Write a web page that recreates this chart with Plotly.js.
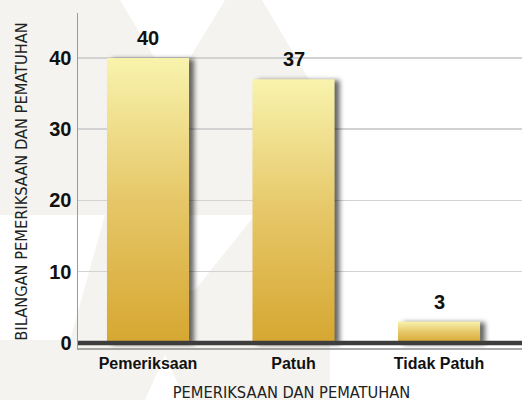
<!DOCTYPE html>
<html><head><meta charset="utf-8">
<script src="https://cdn.plot.ly/plotly-3.0.1.min.js"></script>
<style>
html,body{margin:0;padding:0;background:#fff;}
#chart{width:522px;height:400px;}
#chart .js-fill{filter:drop-shadow(5px 1px 2.5px rgba(0,0,0,0.6));}
</style></head><body><div id="chart"></div>
<script>
// ---- data ----
const categories = ['Pemeriksaan', 'Patuh', 'Tidak Patuh'];
const counts = [40, 37, 3];
const valueLabels = ['40', '37', '3'];
const yTickVals = [0, 10, 20, 30, 40];
const yTickText = ['0', '10', '20', '30', '40'];
const xTitle = 'PEMERIKSAAN DAN PEMATUHAN';
const yTitle = 'BILANGAN PEMERIKSAAN DAN PEMATUHAN';

// ---- style / layout helpers ----
const SANS = '"Liberation Sans", Arial, sans-serif';
const COND = '"DejaVu Sans Condensed", "Liberation Sans Narrow", "Liberation Sans", sans-serif';
const L = 78, T = 13, W = 444, H = 337;
const px = x => (x - L) / W;
const py = y => (T + H - y) / H;
const poly = pts => 'M' + pts.map(p => px(p[0]).toFixed(4) + ',' + py(p[1]).toFixed(4)).join('L') + 'Z';
const beige = '#f5f3ef';
const bgPolys = [
  [[0,0],[120,0],[172,87],[225,0],[262,0],[330,115],[330,215],[0,215]],
  [[105,215],[70,340],[0,340],[0,400],[145,400],[165,355],[185,400],[330,400],[330,215],
   [255,215],[195,290],[140,290],[115,215]]
];
const shapes = bgPolys.map(p => ({type:'path', xref:'paper', yref:'paper', path: poly(p),
  fillcolor: beige, line:{width:0}, layer:'below'}));
// floor of the axis
shapes.push({type:'line', xref:'paper', yref:'y', x0:0, x1:1, y0:0, y1:0,
  line:{color:'#3d3d3d', width:4.5}, layer:'above'});
shapes.push({type:'line', xref:'paper', yref:'y', x0:0, x1:1, y0:-0.86, y1:-0.86,
  line:{color:'#8c8c8c', width:1.5}, layer:'above'});

const halfW = 0.282;
const traces = categories.map((c, i) => ({
  type:'scatter', mode:'lines', name:c,
  x:[i-halfW, i+halfW, i+halfW, i-halfW, i-halfW],
  y:[0, 0, counts[i], counts[i], 0],
  fill:'toself', line:{width:0, color:'rgba(0,0,0,0)'},
  fillgradient:{type:'vertical', colorscale:[[0,'#d6a731'],[0.5,'#e6c768'],[1,'#f8f3ad']]},
  hoverinfo:'skip', showlegend:false
}));

const annotations = categories.map((c, i) => ({
  x:i, y:counts[i], xref:'x', yref:'y', text:valueLabels[i], showarrow:false,
  yanchor:'bottom', yshift:7,
  font:{family:SANS, size:20, weight:'bold', color:'#111'}
}));

const layout = {
  width:522, height:400,
  margin:{l:L, r:0, t:T, b:400-T-H, pad:0},
  paper_bgcolor:'#ffffff', plot_bgcolor:'rgba(0,0,0,0)',
  showlegend:false, hovermode:false,
  xaxis:{
    range:[-0.481, 2.570], tickvals:[0,1,2], ticktext:categories,
    showgrid:false, zeroline:false, showline:false, ticks:'',
    ticklabelstandoff:2,
    tickfont:{family:SANS, size:16, weight:'bold', color:'#111'},
    title:{text:xTitle, standoff:12, font:{family:COND, size:16.3, color:'#222'}}
  },
  yaxis:{
    range:[-1, 46.3], tickvals:yTickVals, ticktext:yTickText,
    showgrid:true, gridcolor:'#d2d2d2', gridwidth:1.5,
    zeroline:false, showline:true, linecolor:'#9a9a9a', linewidth:1.5, ticks:'',
    ticklabelstandoff:1,
    tickfont:{family:SANS, size:20, weight:'bold', color:'#111'},
    title:{text:yTitle, standoff:17, font:{family:COND, size:16.3, color:'#222'}}
  },
  shapes:shapes, annotations:annotations
};

Plotly.newPlot('chart', traces, layout, {staticPlot:true, displayModeBar:false}).then(gd => {
  // place the x title where the original has it (slightly left of centre, lower)
  const xt = gd.querySelector('.xtitle');
  if (xt) {
    const bb = xt.getBBox();
    xt.setAttribute('x', 291.5);
    xt.setAttribute('y', parseFloat(xt.getAttribute('y')) + (392 - (bb.y + bb.height / 2)));
  }
});
</script></body></html>
